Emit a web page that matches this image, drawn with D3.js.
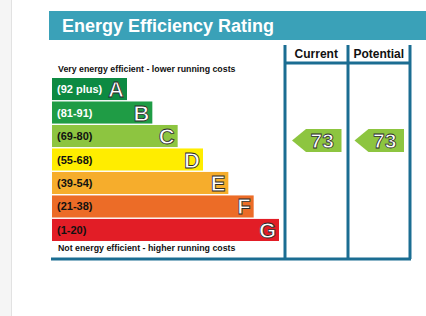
<!DOCTYPE html>
<html>
<head>
<meta charset="utf-8">
<script src="https://cdn.jsdelivr.net/npm/d3@7"></script>
<style>
  body { margin: 0; background: #fff; }
  svg { display: block; font-family: 'Liberation Sans', Arial, sans-serif; }
</style>
</head>
<body>
<div id="chart"></div>
<script>
const bands = ['A', 'B', 'C', 'D', 'E', 'F', 'G']
const ranges = ['(92 plus)', '(81-91)', '(69-80)', '(55-68)', '(39-54)', '(21-38)', '(1-20)']
const bandColors = ['#0d8a42', '#1f9c45', '#8dc540', '#ffed00', '#f6ad2c', '#ec6c27', '#e21d26']
const labelColors = ['#fff', '#fff', '#111', '#111', '#111', '#111', '#111']
const columns = ['Current', 'Potential']
const ratings = [73, 73]
const ratingBands = ['C', 'C']

const width = 426
const height = 316
const svg = d3.select('#chart').append('svg').attr('width', width).attr('height', height)

// page furniture
svg.append('rect').attr('x', 0).attr('y', 0).attr('width', 11).attr('height', height).attr('fill', '#f5f5f5')
svg.append('line').attr('x1', 11.5).attr('x2', 11.5).attr('y1', 0).attr('y2', height).attr('stroke', '#e2e2e2')

// header band
svg.append('rect').attr('x', 49).attr('y', 11).attr('width', width - 49).attr('height', 29).attr('fill', '#3aa1b8')
svg.append('text').attr('x', 62).attr('y', 32)
  .attr('fill', '#fff').attr('font-weight', 'bold').attr('font-size', 18)
  .text('Energy Efficiency Rating')

const y = d3.scaleBand().domain(bands).range([78, 241]).paddingInner(0.06)
const barRight = d3.scaleLinear().domain([0, 6]).range([127, 279])
const barLeft = 52

const rows = svg.selectAll('g.band')
  .data(bands)
  .enter()
  .append('g')
  .attr('class', 'band')

rows.append('rect')
  .attr('x', barLeft)
  .attr('y', function (d) { return y(d) })
  .attr('width', function (d, i) { return barRight(i) - barLeft })
  .attr('height', y.bandwidth())
  .attr('fill', function (d, i) { return bandColors[i] })

rows.append('text')
  .attr('x', 57)
  .attr('y', function (d) { return y(d) + y.bandwidth() / 2 + 4 })
  .attr('font-weight', 'bold').attr('font-size', 11)
  .attr('fill', function (d, i) { return labelColors[i] })
  .text(function (d, i) { return ranges[i] })

rows.append('text')
  .attr('x', function (d, i) { return barRight(i) - 3 })
  .attr('y', function (d) { return y(d) + y.bandwidth() / 2 + 8 })
  .attr('text-anchor', 'end')
  .attr('font-size', 22).attr('font-weight', 'bold')
  .attr('fill', '#fff').attr('stroke', '#2a2a2a').attr('stroke-width', 0.8)
  .text(function (d) { return d })

svg.append('text').attr('x', 58).attr('y', 72)
  .attr('font-weight', 'bold').attr('font-size', 8.8).attr('fill', '#111')
  .text('Very energy efficient - lower running costs')
svg.append('text').attr('x', 58).attr('y', 251)
  .attr('font-weight', 'bold').attr('font-size', 8.8).attr('fill', '#111')
  .text('Not energy efficient - higher running costs')

// rating columns
const col = d3.scaleBand().domain(columns).range([285, 410])
const lineColor = '#1b6d92'

svg.append('g').selectAll('line')
  .data([285, 348, 410])
  .enter()
  .append('line')
  .attr('x1', function (d) { return d }).attr('x2', function (d) { return d })
  .attr('y1', 45).attr('y2', 259)
  .attr('stroke', lineColor).attr('stroke-width', 3)

svg.append('line').attr('x1', 285).attr('x2', 410).attr('y1', 63).attr('y2', 63)
  .attr('stroke', lineColor).attr('stroke-width', 3)
svg.append('line').attr('x1', 51).attr('x2', 411).attr('y1', 259).attr('y2', 259)
  .attr('stroke', lineColor).attr('stroke-width', 3)

svg.append('g').selectAll('text')
  .data(columns)
  .enter()
  .append('text')
  .attr('x', function (d) { return col(d) + col.bandwidth() / 2 })
  .attr('y', 58)
  .attr('text-anchor', 'middle')
  .attr('font-weight', 'bold').attr('font-size', 12).attr('fill', '#111')
  .text(function (d) { return d })

const arrows = svg.append('g').selectAll('g')
  .data(columns)
  .enter()
  .append('g')

arrows.append('path')
  .attr('d', function (d, i) {
    const x0 = col(d) + 7
    const x1 = col(d) + col.bandwidth() - 6
    const top = y(ratingBands[i]) + 4
    const bot = top + 23
    return 'M' + x0 + ',' + (top + bot) / 2 + 'L' + (x0 + 14) + ',' + top + 'L' + x1 + ',' + top +
      'L' + x1 + ',' + bot + 'L' + (x0 + 14) + ',' + bot + 'Z'
  })
  .attr('fill', bandColors[2])

arrows.append('text')
  .attr('x', function (d) { return col(d) + col.bandwidth() / 2 + 6 })
  .attr('y', function (d, i) { return y(ratingBands[i]) + 4 + 19 })
  .attr('text-anchor', 'middle')
  .attr('font-size', 21).attr('font-weight', 'bold')
  .attr('fill', '#fff').attr('stroke', '#2a2a2a').attr('stroke-width', 0.8)
  .text(function (d, i) { return ratings[i] })
</script>
</body>
</html>
